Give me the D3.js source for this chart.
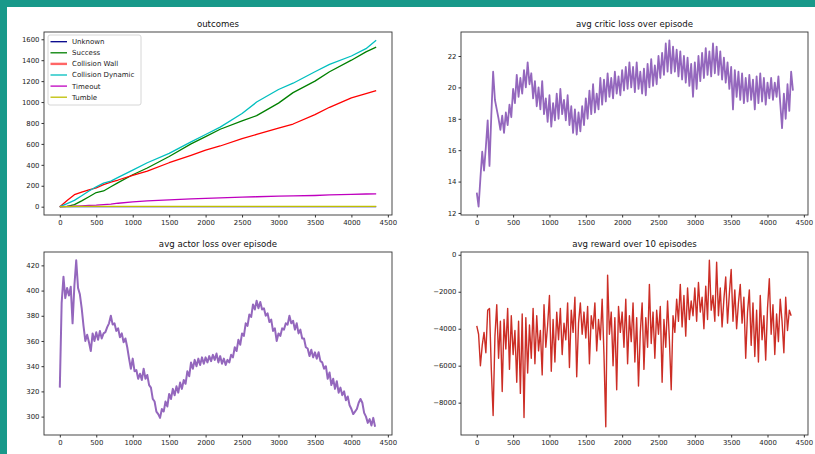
<!DOCTYPE html>
<html>
<head>
<meta charset="utf-8">
<script src="https://cdnjs.cloudflare.com/ajax/libs/d3/7.8.5/d3.min.js"></script>
<style>
  body { margin: 0; background: #fff; }
  svg { display: block; font-family: "DejaVu Sans", sans-serif; }
  .axis path, .axis line { stroke: #333; }
  .axis text { fill: #222; font-size: 6.9px; font-family: "DejaVu Sans", sans-serif; }
  .title { font-size: 8.6px; fill: #111; text-anchor: middle; }
</style>
</head>
<body>
<svg id="chart" width="815" height="454"></svg>
<script>
/* ---- data ---- */

// outcomes (cumulative counts), sampled at these episodes
var outcomeEpisodes = [0, 100, 200, 300, 400, 500, 600, 700, 800, 1000, 1200, 1500,
  1800, 2000, 2200, 2500, 2700, 3000, 3200, 3500, 3700, 4000, 4200, 4340];
var unknownCounts = [0, 0, 0, 0, 0, 0, 0, 0, 0, 0, 0, 0, 0, 0, 0, 0, 0, 0, 0, 0, 0, 0, 0, 0];
var successCounts = [0, 3, 20, 55, 95, 135, 150, 190, 230, 305, 370, 480,
  600, 670, 740, 820, 870, 990, 1090, 1200, 1290, 1400, 1480, 1525];
var wallCounts = [0, 60, 115, 140, 160, 180, 210, 235, 255, 300, 340, 420,
  490, 540, 580, 650, 690, 750, 790, 880, 950, 1040, 1080, 1110];
var dynamicCounts = [0, 30, 60, 105, 150, 190, 225, 245, 280, 350, 420, 510,
  620, 690, 760, 890, 1000, 1120, 1180, 1290, 1360, 1440, 1510, 1590];
var timeoutCounts = [0, 2, 5, 8, 12, 15, 20, 25, 33, 45, 55, 65,
  75, 80, 85, 92, 95, 100, 103, 107, 112, 118, 121, 122];
var tumbleCounts = [0, 1, 2, 2, 3, 3, 3, 3, 3, 3, 3, 3, 3, 3, 3, 3, 3, 3, 3, 3, 3, 3, 3, 3];

var outcomeNames = ["Unknown", "Success", "Collision Wall", "Collision Dynamic", "Timeout", "Tumble"];
var outcomeColors = ["#00008b", "#008000", "#ff0000", "#00bfbf", "#bf00bf", "#bfbf00"];

// the noisy series are sampled every 25 episodes
var sampleStep = 25;

var criticLoss = [
  13.3, 12.4, 14.2, 15.9, 14.7, 16.2, 17.9, 15.0, 18.2, 21.0,
  19.2, 18.6, 18.0, 17.3, 18.2, 17.1, 18.4, 17.6, 18.9, 18.1,
  19.9, 19.0, 20.8, 19.4, 20.6, 19.6, 21.1, 20.0, 21.6, 20.2,
  20.9, 19.3, 20.4, 18.8, 20.0, 18.6, 20.4, 18.3, 19.3, 17.8,
  19.5, 17.5, 19.0, 17.9, 19.6, 18.0, 19.9, 18.3, 19.2, 17.9,
  19.5, 17.6, 18.8, 17.1, 18.6, 17.0, 18.4, 17.2, 18.8, 17.6,
  19.3, 18.0, 19.8, 18.3, 20.2, 18.4, 19.6, 18.6, 20.6, 18.9,
  20.5, 19.1, 20.9, 19.4, 20.6, 19.3, 21.0, 19.6, 20.7, 19.5,
  21.1, 19.8, 21.3, 19.9, 21.6, 20.0, 21.3, 19.7, 21.6, 19.9,
  21.0, 19.6, 21.2, 19.5, 21.5, 20.0, 21.8, 20.1, 21.4, 20.2,
  22.0, 20.6, 22.2, 20.8, 22.8, 21.0, 23.0, 20.9, 22.6, 21.0,
  22.4, 20.7, 22.3, 20.5, 22.0, 20.3, 21.9, 20.1, 21.5, 19.4,
  21.6, 19.9, 22.0, 20.4, 22.2, 20.6, 22.5, 20.8, 22.3, 20.7,
  22.8, 20.9, 22.6, 20.8, 22.3, 20.5, 21.9, 20.3, 21.6, 19.9,
  21.3, 18.6, 21.1, 19.4, 21.0, 19.2, 20.9, 19.0, 20.6, 19.1,
  20.8, 19.2, 20.5, 18.6, 20.7, 19.0, 20.9, 19.1, 20.6, 18.9,
  20.3, 19.3, 20.6, 19.2, 20.3, 19.4, 20.7, 19.0, 17.4, 19.6,
  18.0, 20.2, 18.5, 21.0, 19.8
];

var actorLoss = [
  323, 390, 411, 394, 402, 396, 403, 374, 404, 424,
  402, 397, 386, 372, 360, 365, 359, 352, 366, 360,
  367, 361, 368, 362, 366, 367, 371, 374, 380, 373,
  374, 368, 370, 363, 366, 359, 362, 355, 346, 338,
  346, 336, 337, 330, 334, 329, 338, 330, 333, 325,
  323, 314, 312, 304, 302, 299, 306, 304, 312, 308,
  318, 314, 322, 317, 324, 319, 327, 322, 329, 326,
  336, 332, 343, 338, 345, 340, 346, 341, 347, 342,
  347, 343, 348, 344, 349, 345, 350, 343, 348, 342,
  346, 341, 345, 343, 349, 347, 355, 352, 361, 357,
  366, 364, 374, 372, 381, 379, 389, 385, 392, 386,
  391, 385, 386, 380, 382, 375, 377, 368, 370, 360,
  366, 364, 370, 369, 374, 373, 380, 374, 376, 369,
  374, 366, 369, 362, 362, 355, 354, 348, 353, 347,
  351, 346, 351, 344, 343, 338, 340, 330, 335, 325,
  330, 322, 328, 319, 323, 317, 320, 313, 316, 309,
  306, 302, 304, 306, 311, 314, 311, 303, 300, 295,
  298, 293, 299, 292
];

var avgReward = [
  -3850, -4300, -6000, -4900, -4200, -5300, -3000, -2900, -6200, -8700,
  -4400, -2700, -5600, -3600, -7400, -3500, -5100, -2900, -6200, -3300,
  -5400, -4100, -6900, -3600, -7500, -3200, -8800, -3400, -6400, -3800,
  -5600, -2900, -5900, -3300, -5200, -4100, -6500, -2700, -5000, -3800,
  -2200, -6300, -3500, -5800, -3100, -4600, -2900, -5400, -3700, -4600,
  -2600, -6100, -3000, -4200, -2300, -6600, -3700, -2600, -4300, -3100,
  -4500, -2800, -5900, -3300, -4000, -2600, -5200, -3500, -4600, -2400,
  -5400, -9300, -1100, -4300, -3100, -6000, -3400, -7300, -2800, -4200,
  -3100, -5000, -2400, -5900, -3300, -4700, -2600, -5800, -3400, -7100,
  -4200, -2600, -6200, -3400, -5000, -1600, -4800, -3100, -5600, -3000,
  -4300, -2800, -6900, -3500, -5000, -2500, -4600, -7300, -3300, -4200,
  -2400, -3600, -1600, -3900, -2200, -4400, -1800, -3500, -2500, -3300,
  -1800, -3600, -1500, -3100, -2300, -4000, -1700, -3500, -300, -3000,
  -2200, -3600, -400, -3300, -1800, -3900, -2400, -1200, -3700, -2100,
  -800, -3600, -1900, -4000, -2600, -1600, -3700, -2300, -5600, -3100,
  -1900, -4900, -2600, -5500, -3000, -5800, -2200, -4600, -3300, -5700,
  -2900, -1300, -4300, -2700, -5400, -3200, -4700, -2400, -3600, -5300,
  -2300, -4100, -3000, -3300
];

var xTicks = [0, 500, 1000, 1500, 2000, 2500, 3000, 3500, 4000, 4500];
var outcomeTicks = [0, 200, 400, 600, 800, 1000, 1200, 1400, 1600];
var criticTicks = [12, 14, 16, 18, 20, 22];
var actorTicks = [300, 320, 340, 360, 380, 400, 420];
var rewardTicks = [-8000, -6000, -4000, -2000, 0];

/* ---- build the point lists ---- */

function pairs(xs, ys) {
  return ys.map((v, i) => [xs[i], v]);
}
function sampled(ys) {
  return ys.map((v, i) => [i * sampleStep, v]);
}

var outcomeSeries = [unknownCounts, successCounts, wallCounts, dynamicCounts,
  timeoutCounts, tumbleCounts].map((ys, i) => ({
    name: outcomeNames[i], color: outcomeColors[i], points: pairs(outcomeEpisodes, ys)
  }));

var svg = d3.select("#chart");
svg.append("rect").attr("width", 815).attr("height", 454).attr("fill", "#fff");
svg.append("rect").attr("width", 815).attr("height", 7).attr("fill", "#18998a");
svg.append("rect").attr("width", 7).attr("height", 454).attr("fill", "#18998a");

var xDomain = [-217, 4557];

/* pads an extent by 5% each side, like matplotlib's autoscale */
function padded(values) {
  var ext = d3.extent(values);
  var m = (ext[1] - ext[0]) * 0.05;
  return [ext[0] - m, ext[1] + m];
}

/* draws one axes box with its title, ticks and lines */
function drawPanel(box, title, series, yTicks, lineWidth) {
  var allY = [].concat(...series.map(s => s.points.map(p => p[1])));
  var x = d3.scaleLinear().domain(xDomain).range([box.x0, box.x1]);
  var y = d3.scaleLinear().domain(padded(allY)).range([box.y1, box.y0]);

  var clipId = "clip" + Math.round(box.x0) + "_" + Math.round(box.y0);
  svg.append("clipPath").attr("id", clipId)
    .append("rect")
      .attr("x", box.x0).attr("y", box.y0)
      .attr("width", box.x1 - box.x0).attr("height", box.y1 - box.y0);

  var line = d3.line().x(d => x(d[0])).y(d => y(d[1]));
  svg.append("g")
    .attr("clip-path", "url(#" + clipId + ")")
    .selectAll("path")
    .data(series)
    .enter()
    .append("path")
      .attr("d", d => line(d.points))
      .attr("fill", "none")
      .attr("stroke", d => d.color)
      .attr("stroke-width", lineWidth)
      .attr("stroke-linejoin", "round");

  svg.append("g")
    .attr("class", "axis")
    .attr("transform", "translate(0," + box.y1 + ")")
    .call(d3.axisBottom(x).tickValues(xTicks).tickFormat(d3.format("d"))
      .tickSizeInner(2.5).tickSizeOuter(0).tickPadding(2.5))
    .call(g => g.select(".domain").remove());
  svg.append("g")
    .attr("class", "axis")
    .attr("transform", "translate(" + box.x0 + ",0)")
    .call(d3.axisLeft(y).tickValues(yTicks).tickFormat(d3.format("d"))
      .tickSizeInner(2.5).tickSizeOuter(0).tickPadding(2))
    .call(g => g.select(".domain").remove());

  svg.append("rect")
    .attr("x", box.x0).attr("y", box.y0)
    .attr("width", box.x1 - box.x0).attr("height", box.y1 - box.y0)
    .attr("fill", "none")
    .attr("stroke", "#333")
    .attr("stroke-width", 0.9);

  svg.append("text")
    .attr("class", "title")
    .attr("x", (box.x0 + box.x1) / 2)
    .attr("y", box.y0 - 5)
    .text(title);
}

drawPanel({x0: 44, x1: 392, y0: 32, y1: 215}, "outcomes",
  outcomeSeries, outcomeTicks, 1.3);
drawPanel({x0: 461, x1: 808, y0: 32, y1: 215}, "avg critic loss over episode",
  [{color: "#9467bd", points: sampled(criticLoss)}], criticTicks, 1.8);
drawPanel({x0: 44, x1: 392, y0: 252, y1: 435}, "avg actor loss over episode",
  [{color: "#9467bd", points: sampled(actorLoss)}], actorTicks, 2.0);
drawPanel({x0: 461, x1: 808, y0: 252, y1: 435}, "avg reward over 10 episodes",
  [{color: "#cc2e26", points: sampled(avgReward)}], rewardTicks, 1.4);

/* legend for the outcomes panel */
var legend = svg.append("g").attr("transform", "translate(48,35)");
legend.append("rect")
  .attr("width", 93).attr("height", 70)
  .attr("rx", 2)
  .attr("fill", "#fff").attr("fill-opacity", 0.85)
  .attr("stroke", "#ccc").attr("stroke-width", 0.8);
var rows = legend.selectAll("g.row")
  .data(outcomeSeries)
  .enter()
  .append("g")
    .attr("class", "row")
    .attr("transform", (d, i) => "translate(0," + (6.7 + i * 11.1) + ")");
rows.append("line")
  .attr("x1", 2.5).attr("x2", 19)
  .attr("stroke", d => d.color)
  .attr("stroke-width", d => d.name === "Collision Wall" ? 2.4 : 1.3)
  .attr("stroke-opacity", d => d.name === "Collision Wall" ? 0.6 : 1);
rows.append("text")
  .attr("x", 24)
  .attr("dy", "0.35em")
  .style("font-size", "7px")
  .style("fill", "#222")
  .text(d => d.name);
</script>
</body>
</html>
